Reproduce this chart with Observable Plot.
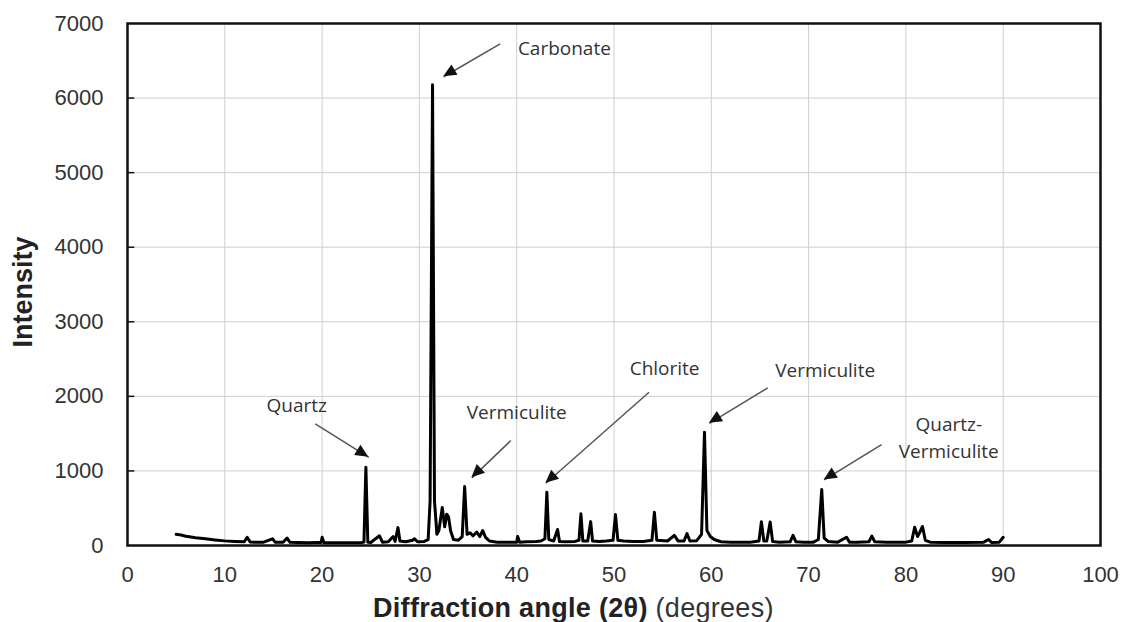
<!DOCTYPE html>
<html><head><meta charset="utf-8">
<script src="https://cdn.jsdelivr.net/npm/d3@7"></script>
<script src="https://cdn.jsdelivr.net/npm/@observablehq/plot@0.6"></script>
<style>html,body{margin:0;padding:0;background:#fff;overflow:hidden}</style>
</head><body><div id="chart"></div>
<script>
// XRD pattern: diffraction angle (2θ, degrees) and intensity
const angle = [
  5.0, 5.5, 6.0, 7.0, 8.0, 9.0, 10.0, 11.0, 12.0, 12.3, 12.6, 13.0, 14.0, 14.9, 15.2, 16.0, 16.4, 16.7,
  17.5, 18.5, 19.5, 19.9, 20.0, 20.2, 21.0, 22.0, 23.0, 24.0, 24.3, 24.5, 24.7, 25.0, 25.9, 26.2,
  26.8, 27.3, 27.5, 27.8, 28.0, 28.6, 29.3, 29.5, 29.8, 30.5, 30.9, 31.1, 31.35, 31.55, 31.8, 32.0,
  32.35, 32.6, 32.8, 33.0, 33.2, 33.5, 34.0, 34.4, 34.65, 34.9, 35.2, 35.5, 35.9, 36.2, 36.5, 36.8,
  37.2, 38.0, 39.0, 40.0, 40.1, 40.3, 41.0, 42.0, 42.5, 42.9, 43.1, 43.3, 43.8, 44.2, 44.4, 45.0,
  46.0, 46.4, 46.6, 46.8, 47.3, 47.6, 47.8, 48.5, 49.2, 49.9, 50.15, 50.4, 51.0, 52.0, 53.0, 53.9,
  54.15, 54.4, 55.5, 56.2, 56.6, 57.2, 57.5, 57.8, 58.5, 59.0, 59.3, 59.55, 59.9, 60.3, 61.0, 62.0,
  63.0, 64.0, 64.9, 65.15, 65.4, 65.7, 66.05, 66.3, 67.0, 68.1, 68.4, 68.7, 69.5, 70.5, 71.0, 71.35,
  71.6, 72.0, 73.0, 73.9, 74.2, 75.0, 76.2, 76.5, 76.8, 78.0, 79.0, 80.0, 80.6, 80.9, 81.2, 81.4,
  81.7, 82.0, 82.5, 84.0, 86.0, 88.0, 88.5, 88.8, 89.6, 90.0
];
const intensity = [
  150, 140, 125, 105, 90, 75, 62, 55, 50, 110, 48, 45, 45, 90, 42, 45, 100, 42,
  40, 38, 40, 40, 110, 38, 38, 36, 38, 38, 45, 1050, 45, 40, 130, 45,
  50, 120, 55, 240, 60, 50, 70, 90, 50, 55, 80, 600, 6180, 600, 150, 200,
  510, 250, 420, 380, 200, 80, 70, 120, 790, 150, 170, 130, 180, 120, 200, 110,
  60, 45, 45, 45, 120, 45, 50, 55, 60, 90, 715, 80, 60, 215, 55, 50,
  55, 70, 425, 60, 60, 320, 60, 55, 60, 70, 415, 70, 60, 55, 55, 70,
  445, 70, 60, 135, 60, 60, 160, 60, 65, 150, 1520, 200, 120, 80, 50, 45,
  45, 45, 60, 320, 60, 60, 315, 55, 45, 50, 135, 50, 45, 45, 80, 750,
  100, 55, 45, 110, 45, 45, 50, 125, 50, 45, 45, 45, 60, 245, 120, 170,
  255, 70, 45, 40, 40, 45, 80, 40, 45, 110
];

const xTicks = [0, 10, 20, 30, 40, 50, 60, 70, 80, 90, 100];
const yTicks = [0, 1000, 2000, 3000, 4000, 5000, 6000, 7000];

// annotations: label, label position, arrow tail and arrow tip (data units)
const noteLabels = ["Carbonate", "Quartz", "Vermiculite", "Chlorite", "Vermiculite", "Quartz-\nVermiculite"];
const noteX = [44.9, 17.4, 40.0, 55.2, 71.7, 84.4];
const noteY = [6700, 1903, 1809, 2399, 2372, 1474];
const tailX = [38.3, 19.3, 39.4, 53.6, 65.8, 77.5];
const tailY = [6728, 1631, 1407, 2055, 2114, 1354];
const tipX  = [32.5, 24.8, 35.4, 43.0, 59.8, 71.6];
const tipY  = [6286, 1183, 907, 835, 1639, 880];

const pattern = angle.map((a, i) => ({angle: a, intensity: intensity[i]}));
const notes = noteLabels.map((t, i) => ({
  text: t, x: noteX[i], y: noteY[i], x1: tailX[i], y1: tailY[i], x2: tipX[i], y2: tipY[i]
}));

// filled triangular arrow heads at the tip of each annotation arrow
const arrowHeads = (index, scales) => {
  const g = d3.create("svg:g");
  for (const d of notes) {
    const x1 = scales.x(d.x1), y1 = scales.y(d.y1), x2 = scales.x(d.x2), y2 = scales.y(d.y2);
    const a = Math.atan2(y2 - y1, x2 - x1);
    const L = 13, W = 6;
    const bx = x2 - L * Math.cos(a), by = y2 - L * Math.sin(a);
    const px = -Math.sin(a) * W, py = Math.cos(a) * W;
    g.append("polygon")
      .attr("points", `${x2},${y2} ${bx + px},${by + py} ${bx - px},${by - py}`)
      .attr("fill", "#111");
  }
  return g.node();
};

const chart = Plot.plot({
  width: 1132, height: 622,
  marginLeft: 127, marginRight: 32, marginTop: 23, marginBottom: 77,
  style: {fontFamily: "'Liberation Sans', Arial, sans-serif", background: "#fff", color: "#222"},
  x: {domain: [0, 100]},
  y: {domain: [0, 7000]},
  marks: [
    Plot.gridX(xTicks, {stroke: "#cfcfcf", strokeOpacity: 1, strokeWidth: 1}),
    Plot.gridY(yTicks, {stroke: "#cfcfcf", strokeOpacity: 1, strokeWidth: 1}),
    Plot.ruleY(yTicks.slice(1, -1), {x1: 0, x2: 0.75, stroke: "#111", strokeWidth: 1.5}),
    Plot.axisX(xTicks, {tickSize: 0, tickPadding: 21, fontSize: 22, fill: "#333", label: null, tickFormat: d => String(d)}),
    Plot.axisY(yTicks, {tickSize: 0, tickPadding: 24, fontSize: 22, fill: "#333", label: null, tickFormat: d => String(d)}),
    Plot.line(pattern, {x: "angle", y: "intensity", stroke: "#000", strokeWidth: 3, strokeLinejoin: "round"}),
    Plot.link(notes, {x1: "x1", y1: "y1", x2: "x2", y2: "y2", stroke: "#555", strokeWidth: 1.5}),
    arrowHeads,
    Plot.text(notes, {x: "x", y: "y", text: "text", fontSize: 19, fontFamily: "'Open Sans', sans-serif",
      fill: "#333", lineHeight: 1.45}),
    Plot.frame({stroke: "#111", strokeWidth: 2.5})
  ]
});

const svg = d3.select(chart);
const xl = svg.append("text")
  .attr("x", 373).attr("y", 617)
  .attr("text-anchor", "start")
  .attr("font-family", "'Liberation Sans', Arial, sans-serif")
  .attr("font-size", 27).attr("fill", "#222").attr("letter-spacing", 0.3);
xl.append("tspan").attr("font-weight", "bold").text("Diffraction angle (2θ)");
xl.append("tspan").attr("font-weight", "normal").attr("fill", "#333").text(" (degrees)");

svg.append("text")
  .attr("transform", "translate(32,292) rotate(-90)")
  .attr("text-anchor", "middle")
  .attr("font-family", "'Liberation Sans', Arial, sans-serif")
  .attr("font-size", 27).attr("font-weight", "bold").attr("fill", "#222")
  .text("Intensity");

document.getElementById("chart").appendChild(chart);
</script>
</body></html>
